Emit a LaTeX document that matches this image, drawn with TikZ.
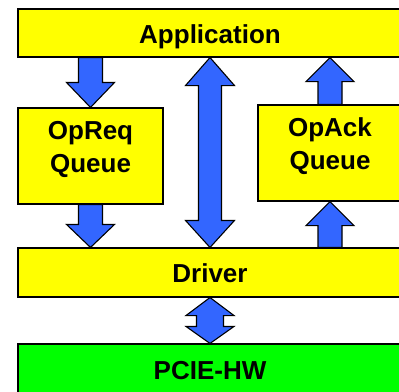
\documentclass[tikz,border=0pt]{standalone}
\usepackage{fontspec}
\setmainfont{Liberation Sans}
\usetikzlibrary{calc}
\definecolor{boxyellow}{RGB}{255,255,0}
\definecolor{boxgreen}{RGB}{0,255,0}
\definecolor{arrowblue}{RGB}{51,102,255}
\tikzset{
  layerbox/.style={draw=black, line width=1.1pt, fill=boxyellow, inner sep=0pt,
    font=\fontsize{26}{33}\selectfont\bfseries, text height=20pt, text depth=0pt},
  twoline/.style={text height=0pt, text depth=33pt},
  blockarrow/.style={draw=black, line width=1.1pt, fill=arrowblue, line join=miter}
}
\newcommand{\twolines}[2]{\begin{tabular}[t]{@{}c@{}}#1\\#2\end{tabular}}
% single block arrow: #1 tail, #2 tip, #3 head length, #4 half shaft, #5 half head
\newcommand{\sblockarrow}[5]{%
  \path[blockarrow] let \p1=(#1), \p2=(#2), \n1={sign(\y2-\y1)} in
    (\x1-#4,\y1) -- (\x1-#4,\y2-\n1*#3) -- (\x1-#5,\y2-\n1*#3) -- (\x2,\y2)
    -- (\x1+#5,\y2-\n1*#3) -- (\x1+#4,\y2-\n1*#3) -- (\x1+#4,\y1) -- cycle;}
% double block arrow: #1 end A, #2 end B, #3 head length A, #4 head length B, #5 half shaft, #6 half head
\newcommand{\dblockarrow}[6]{%
  \path[blockarrow] let \p1=(#1), \p2=(#2), \n1={sign(\y2-\y1)} in
    (\x1,\y1) -- (\x1-#6,\y1+\n1*#3) -- (\x1-#5,\y1+\n1*#3) -- (\x1-#5,\y2-\n1*#4)
    -- (\x1-#6,\y2-\n1*#4) -- (\x2,\y2) -- (\x1+#6,\y2-\n1*#4) -- (\x1+#5,\y2-\n1*#4)
    -- (\x1+#5,\y1+\n1*#3) -- (\x1+#6,\y1+\n1*#3) -- cycle;}
\begin{document}
\begin{tikzpicture}[x=1pt,y=-1pt]
\useasboundingbox (0,0) rectangle (399,391);
\clip (0,0) rectangle (399,391);
\node[layerbox, minimum width=384pt, minimum height=48pt] (app) at (210,33) {Application};
\node[layerbox, twoline, minimum width=145pt, minimum height=96pt] (opreq) at (90.5,156) {\twolines{OpReq}{Queue}};
\node[layerbox, twoline, minimum width=144pt, minimum height=96pt] (opack) at (330,153) {\twolines{OpAck}{Queue}};
\node[layerbox, minimum width=384pt, minimum height=49pt] (driver) at (210,272.5) {Driver};
\node[layerbox, fill=boxgreen, minimum width=384pt, minimum height=51pt] (pcie) at (210,369.5) {PCIE-HW};
% arrows
\sblockarrow{app.south -| opreq.north}{opreq.north}{25pt}{12pt}{24pt}
\sblockarrow{opreq.south}{driver.north -| opreq.south}{23pt}{12pt}{24pt}
\dblockarrow{app.south}{driver.north}{28pt}{27pt}{11.5pt}{24.5pt}
\sblockarrow{opack.north}{app.south -| opack.north}{24pt}{12pt}{24pt}
\sblockarrow{driver.north -| opack.south}{opack.south}{24pt}{12pt}{24pt}
\dblockarrow{driver.south}{pcie.north}{18pt}{17pt}{13.5pt}{24pt}
\end{tikzpicture}
\end{document}
